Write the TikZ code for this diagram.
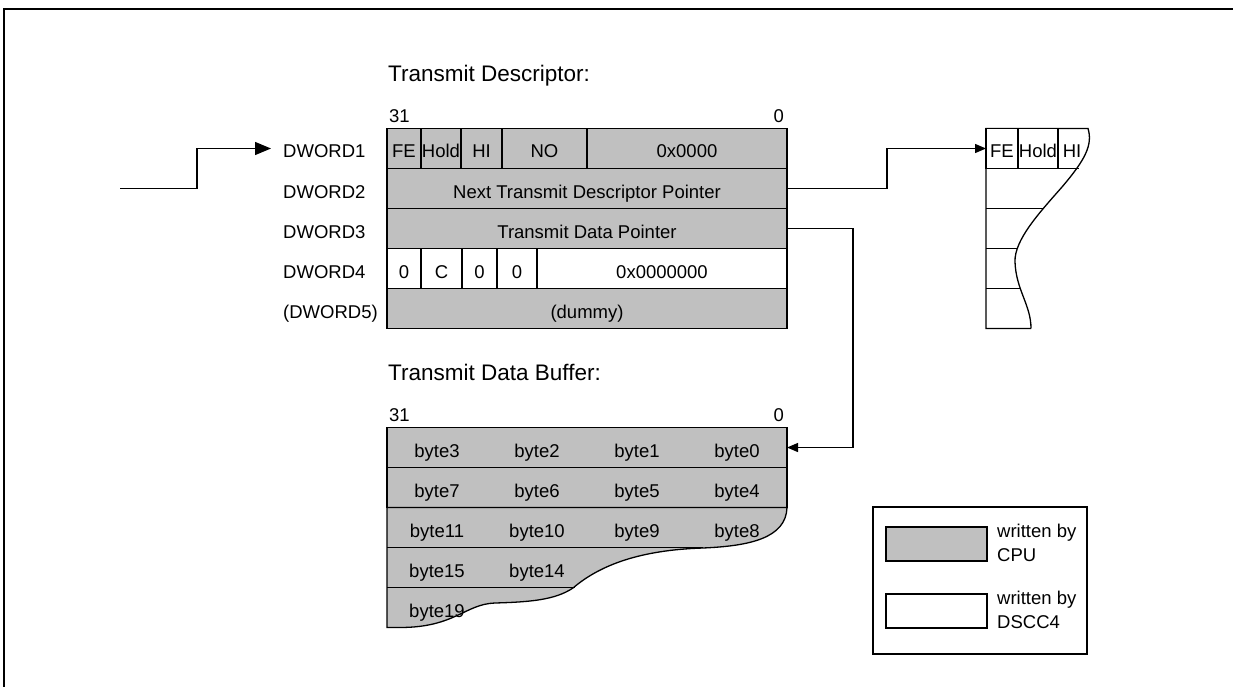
\documentclass[tikz,border=0pt]{standalone}
\usepackage{fontspec}
\setmainfont{Liberation Sans}
\usetikzlibrary{arrows.meta}
\definecolor{cpugray}{RGB}{192,192,192}
\begin{document}
\begin{tikzpicture}[x=1pt,y=-1pt,
  every node/.style={font=\fontsize{18.5}{24.5}\selectfont},
  lw/.style={line width=1.3pt},
  gcell/.style={draw, lw, fill=cpugray, inner sep=0pt, outer sep=0pt, anchor=north west,
                minimum height=40pt, text height=19pt, text depth=0pt},
  wcell/.style={gcell, fill=white},
  btxt/.style={inner sep=0pt, text height=19pt, text depth=0pt},
  dlbl/.style={anchor=west, inner sep=0pt, inner xsep=12pt, text height=19pt, text depth=0pt},
  lbl/.style={inner sep=0pt, anchor=base west},
  ttl/.style={lbl, font=\fontsize{22.5}{27}\selectfont},
  arr/.style={lw, -{Triangle[length=11pt,width=9pt]}},
  arrbig/.style={lw, -{Triangle[length=16pt,width=13pt]}},
]
\useasboundingbox (0,0) rectangle (1233,687);
% frame
\draw[line width=2.5pt] (4,690) -- (4,9) -- (1236,9);

% ---------- Transmit descriptor ----------
\node[ttl] (t1) at (388,82) {Transmit Descriptor:};
\node[lbl] (d31) at (389,123) {31};
\node[inner sep=0pt, anchor=base east] (d0) at (784,123) {0};

\node[gcell, minimum width=34pt] (fe) at (387,128.5) {FE};
\node[gcell, minimum width=40pt] (hold) at (421,128.5) {Hold};
\node[gcell, minimum width=41pt] (hi) at (461,128.5) {HI};
\node[gcell, minimum width=85pt] (no) at (502,128.5) {NO};
\node[gcell, minimum width=200pt] (z4) at (587,128.5) {0x0000};
\node[gcell, minimum width=400pt] (ntdp) at (387,168.5) {Next Transmit Descriptor Pointer};
\node[gcell, minimum width=400pt] (tdp) at (387,208.5) {Transmit Data Pointer};
\node[wcell, minimum width=34pt] (c0a) at (387,248.5) {0};
\node[wcell, minimum width=41pt] (cc) at (421,248.5) {C};
\node[wcell, minimum width=35pt] (c0b) at (462,248.5) {0};
\node[wcell, minimum width=40pt] (c0c) at (497,248.5) {0};
\node[wcell, minimum width=250pt] (z7) at (537,248.5) {0x0000000};
\node[gcell, minimum width=400pt] (dummy) at (387,288.5) {(dummy)};

\node[dlbl] (dw1) at (271,148.5) {DWORD1};
\node[dlbl] (dw2) at (271,188.5) {DWORD2};
\node[dlbl] (dw3) at (271,228.5) {DWORD3};
\node[dlbl] (dw4) at (271,268.5) {DWORD4};
\node[dlbl] (dw5) at (271,308.5) {(DWORD5)};

\coordinate (src) at (120,188.5);
\draw[arrbig] (src) -- ++(77,0) |- (dw1.west);

% ---------- next descriptor (torn) ----------
\draw[lw] (1031,328.5) -- (986,328.5) -- (986,128.5) -- (1088,128.5)
  .. controls (1093,145) and (1085,160) .. (1062,187)
  .. controls (1040,212) and (1014,240) .. (1015,262)
  .. controls (1016,290) and (1031,305) .. (1031,328.5);
\node[wcell, minimum width=32pt] (sfe) at (986,128.5) {FE};
\node[wcell, minimum width=40pt] (shold) at (1018,128.5) {Hold};
\node[btxt] (shi) at (1072,148.5) {HI};
\draw[lw] (986,168.5) -- (1079,168.5);
\draw[lw] (986,208.5) -- (1044,208.5);
\draw[lw] (986,248.5) -- (1018,248.5);
\draw[lw] (986,288.5) -- (1020,288.5);

\draw[arr] (ntdp.east) -- ++(100,0) |- (sfe.west);

% ---------- Transmit data buffer ----------
\node[ttl] (t2) at (388,380) {Transmit Data Buffer:};
\node[lbl] (b31) at (389,421) {31};
\node[inner sep=0pt, anchor=base east] (bz) at (784,421) {0};

\node[gcell, minimum width=400pt] (brow1) at (387,427.5) {};
\node[gcell, minimum width=400pt] (brow2) at (387,467.5) {};
\filldraw[lw, fill=cpugray] (387,507.5) -- (787,507.5)
  .. controls (786,538) and (750,546) .. (703,548)
  .. controls (640,550) and (600,565) .. (573,588)
  .. controls (555,600) and (530,602) .. (495,603)
  .. controls (465,604) and (455,627.5) .. (400,627.5)
  -- (387,627.5) -- cycle;
\draw[lw] (387,547.5) -- (703,547.5);
\draw[lw] (387,587.5) -- (575,587.5);

\node[btxt] (b3) at (437,447.5) {byte3};
\node[btxt] (b2) at (537,447.5) {byte2};
\node[btxt] (b1) at (637,447.5) {byte1};
\node[btxt] (b0) at (737,447.5) {byte0};
\node[btxt] (b7) at (437,487.5) {byte7};
\node[btxt] (b6) at (537,487.5) {byte6};
\node[btxt] (b5) at (637,487.5) {byte5};
\node[btxt] (b4) at (737,487.5) {byte4};
\node[btxt] (b11) at (437,527.5) {byte11};
\node[btxt] (b10) at (537,527.5) {byte10};
\node[btxt] (b9) at (637,527.5) {byte9};
\node[btxt] (b8) at (737,527.5) {byte8};
\node[btxt] (b15) at (437,567.5) {byte15};
\node[btxt] (b14) at (537,567.5) {byte14};
\node[btxt] (b19) at (437,607.5) {byte19};

\draw[arr] (tdp.east) -- ++(66,0) |- (brow1.east);

% ---------- legend ----------
\node[draw, lw, inner sep=0pt, outer sep=0pt, anchor=north west,
      minimum width=214pt, minimum height=147pt] (legend) at (873,507) {};
\node[gcell, minimum width=101pt, minimum height=34pt] (lcpu) at (886,527) {};
\node[wcell, minimum width=101pt, minimum height=34pt] (ldscc) at (886,594) {};
\node[anchor=north west, align=left, inner sep=0pt] (tcpu) at (997,523.5) {written by\\CPU};
\node[anchor=north west, align=left, inner sep=0pt] (tdscc) at (997,590.5) {written by\\DSCC4};
\end{tikzpicture}
\end{document}
